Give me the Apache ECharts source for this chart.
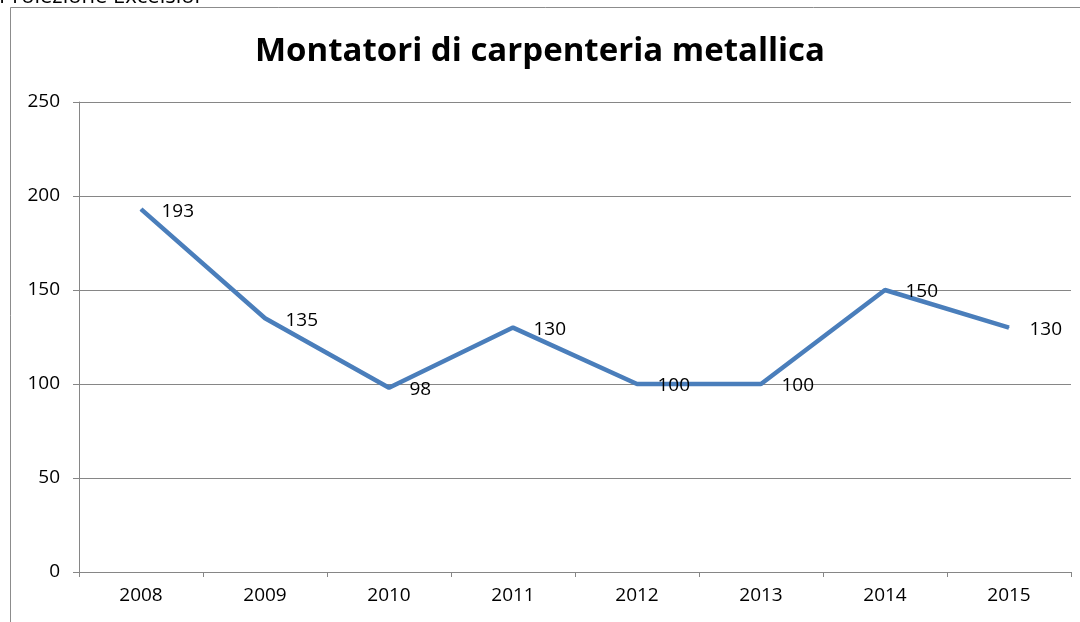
<!DOCTYPE html>
<html>
<head>
<meta charset="utf-8">
<script src="https://cdn.jsdelivr.net/npm/echarts@6/dist/echarts.min.js"></script>
<style>
  html, body { margin: 0; padding: 0; background: #fff; }
  #chart { width: 1080px; height: 622px; }
</style>
</head>
<body>
<div id="chart"></div>
<script>
// Categories and values for the series
const years = ['2008', '2009', '2010', '2011', '2012', '2013', '2014', '2015'];
const workers = [193, 135, 98, 130, 100, 100, 150, 130];
const yTicks = { min: 0, max: 250, step: 50 };

const chart = echarts.init(document.getElementById('chart'));
const font = '"Open Sans", "Noto Sans", sans-serif';

chart.setOption({
  animation: false,
  backgroundColor: '#ffffff',
  textStyle: { fontFamily: font },
  graphic: [
    {
      type: 'text',
      left: -1,
      top: -14,
      style: { text: 'Proiezione Excelsior', fontSize: 22, fill: '#000', fontFamily: font }
    },
    {
      type: 'rect',
      shape: { x: 10.5, y: 7.5, width: 1200, height: 800 },
      style: { fill: 'none', stroke: '#8c8c8c', lineWidth: 1 },
      z: -1
    }
  ],
  title: {
    text: 'Montatori di carpenteria metallica',
    left: 'center',
    top: 30,
    textStyle: { fontSize: 33, fontWeight: 'bold', color: '#000', fontFamily: font }
  },
  grid: { left: 79, right: 9, top: 102, bottom: 50 },
  xAxis: {
    type: 'category',
    data: years,
    boundaryGap: true,
    axisLine: { lineStyle: { color: '#868686', width: 1 } },
    axisTick: { show: true, alignWithLabel: false, length: 5, lineStyle: { color: '#868686' } },
    axisLabel: { color: '#000', fontSize: 19, margin: 14, fontFamily: font }
  },
  yAxis: {
    type: 'value',
    min: yTicks.min,
    max: yTicks.max,
    interval: yTicks.step,
    axisLine: { show: true, lineStyle: { color: '#868686', width: 1 } },
    axisTick: { show: true, length: 6, lineStyle: { color: '#868686' } },
    axisLabel: { color: '#000', fontSize: 19, margin: 19, fontFamily: font },
    splitLine: { lineStyle: { color: '#868686', width: 1 } }
  },
  series: [{
    type: 'line',
    data: workers,
    symbol: 'circle',
    symbolSize: 1,
    showSymbol: true,
    itemStyle: { color: '#4a7ebb' },
    lineStyle: { color: '#4a7ebb', width: 4.5 },
    label: {
      show: true,
      position: 'right',
      distance: 20,
      offset: [0, 2],
      color: '#000',
      fontSize: 19,
      fontFamily: font
    }
  }]
});
</script>
</body>
</html>
